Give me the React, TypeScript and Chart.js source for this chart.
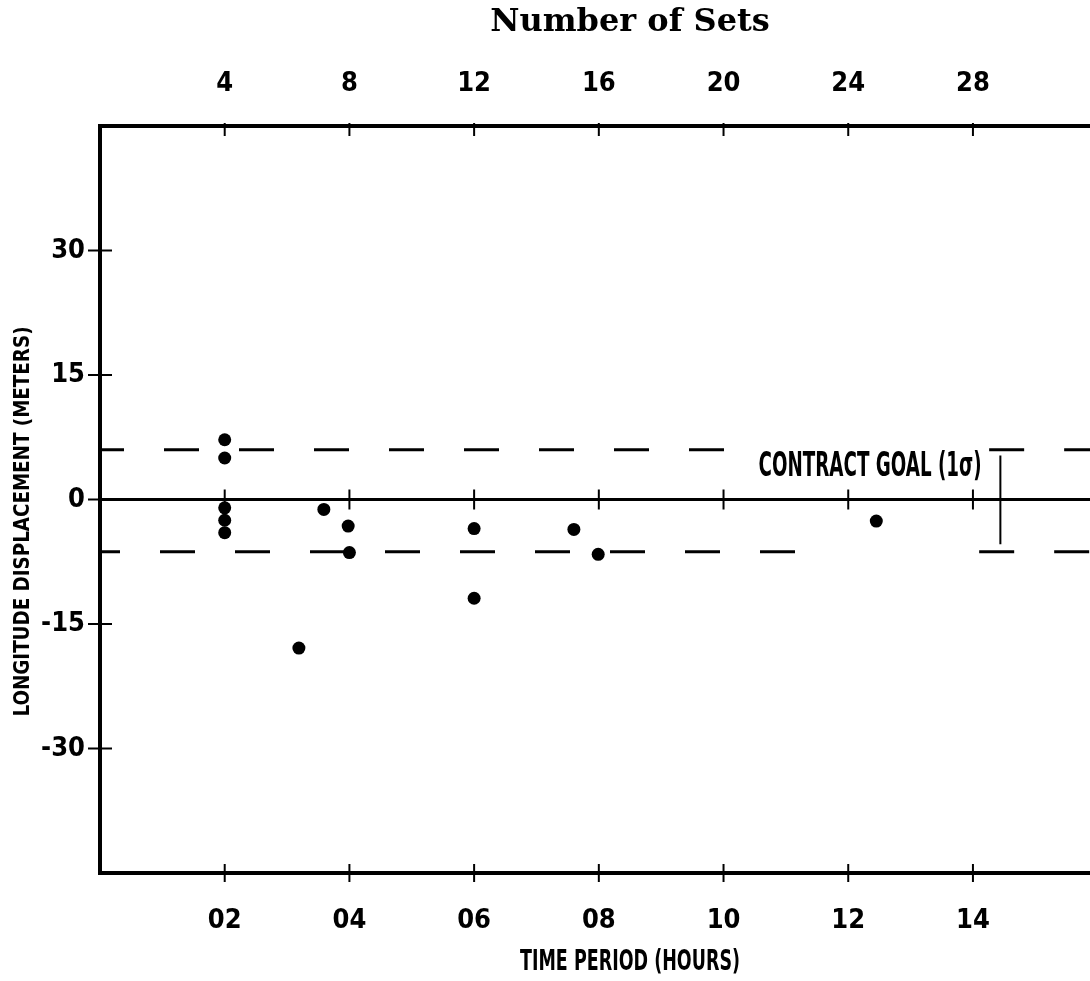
import React, { useEffect, useRef } from "react";
import { Chart, registerables } from "chart.js";

Chart.register(...registerables);

// ---- data ----
const HOURS = [2, 2, 2, 2, 2, 3.19, 3.59, 3.98, 4.0, 6.0, 6.0, 7.6, 7.99, 12.45];
const DISPLACEMENT = [7.2, 5.0, -1.0, -2.5, -4.0, -17.9, -1.2, -3.2, -6.4, -3.5, -11.9, -3.6, -6.6, -2.6];

const TIME_TICKS = [2, 4, 6, 8, 10, 12, 14];
const TIME_TICK_LABELS = ["02", "04", "06", "08", "10", "12", "14"];
const SET_TICKS = [4, 8, 12, 16, 20, 24, 28];
const SET_TICK_LABELS = ["4", "8", "12", "16", "20", "24", "28"];
const DISP_TICKS = [30, 15, 0, -15, -30];
const DISP_TICK_LABELS = ["30", "15", "0", "-15", "-30"];

const GOAL_UPPER = 6.0;
const GOAL_LOWER = -6.3;
const ERROR_BAR_X = 14.44;
const ERROR_BAR_TOP = 5.3;
const ERROR_BAR_BOTTOM = -5.4;
const GOAL_LABEL = "CONTRACT GOAL (1\u03c3)";
const GOAL_LABEL_POS = { x: 12.35, y: 3.9 };

const X_TITLE = "TIME PERIOD (HOURS)";
const Y_TITLE = "LONGITUDE DISPLACEMENT (METERS)";
const TOP_TITLE = "Number of Sets";

const X_MIN = 0;
const X_MAX = 17;
const Y_MIN = -45;
const Y_MAX = 45;

const NARROW = "'Liberation Sans Narrow', 'DejaVu Sans Condensed', sans-serif";

function condensedText(ctx: any, text: string, cx: number, cy: number, size: number, width: number, rot: number) {
  ctx.save();
  ctx.font = `bold ${size}px ${NARROW}`;
  const w = ctx.measureText(text).width;
  ctx.translate(cx, cy);
  ctx.rotate(rot);
  ctx.scale(width / w, 1);
  ctx.fillStyle = "#000";
  ctx.textAlign = "center";
  ctx.textBaseline = "middle";
  ctx.fillText(text, 0, 0);
  ctx.restore();
}

const decorPlugin = {
  id: "decor",
  afterDatasetsDraw(chart: any) {
    const { ctx, chartArea, scales } = chart;
    const x = scales.x;
    const x2 = scales.x2;
    const y = scales.y;
    const seg = (a: number, b: number, c: number, d: number) => {
      ctx.beginPath();
      ctx.moveTo(a, b);
      ctx.lineTo(c, d);
      ctx.stroke();
    };
    ctx.save();
    ctx.strokeStyle = "#000";
    ctx.lineWidth = 2;
    const y0 = y.getPixelForValue(0);
    for (const t of y.ticks) {
      const py = y.getPixelForValue(t.value);
      seg(chartArea.left - 12, py, chartArea.left + 12, py);
    }
    for (const t of x.ticks) {
      const px = x.getPixelForValue(t.value);
      seg(px, chartArea.bottom - 9, px, chartArea.bottom + 9);
      seg(px, y0 - 10, px, y0 + 10);
    }
    for (const t of x2.ticks) {
      const px = x2.getPixelForValue(t.value);
      seg(px, chartArea.top - 3, px, chartArea.top + 10);
    }
    ctx.restore();

    // goal label
    const lx = x.getPixelForValue(GOAL_LABEL_POS.x);
    const ly = y.getPixelForValue(GOAL_LABEL_POS.y);
    condensedText(ctx, GOAL_LABEL, lx, ly, 34, 223, 0);

    // axis titles (condensed, like the original lettering)
    const midX = (x.left + x.right) / 2;
    condensedText(ctx, X_TITLE, midX, 963, 28, 220, 0);
    condensedText(ctx, Y_TITLE, 23, (chartArea.top + chartArea.bottom) / 2 + 22, 22, 390, -Math.PI / 2);
  },
};

function hLine(yv: number, x0: number, x1: number, dash: number[] | null, offset: number, width: number) {
  return {
    data: [
      { x: x0, y: yv },
      { x: x1, y: yv },
    ],
    showLine: true,
    pointRadius: 0,
    borderColor: "#000",
    borderWidth: width,
    borderDash: dash || [],
    borderDashOffset: offset,
    fill: false,
  };
}

export default function App() {
  const ref = useRef<HTMLCanvasElement | null>(null);

  useEffect(() => {
    if (!ref.current) return;
    const tickFont = { family: NARROW, weight: "bold", size: 27 };
    const chart = new Chart(ref.current, {
      type: "scatter",
      data: {
        datasets: [
          {
            data: HOURS.map((h, i) => ({ x: h, y: DISPLACEMENT[i] })),
            pointRadius: 6.5,
            pointBackgroundColor: "#000",
            pointBorderColor: "#000",
            pointBorderWidth: 0,
            showLine: false,
          } as any,
          hLine(0, X_MIN, X_MAX, null, 0, 3),
          hLine(GOAL_UPPER, X_MIN, 10.2, [35, 40], 11, 3),
          hLine(GOAL_UPPER, 14.26, X_MAX, [35, 40], 0, 3),
          hLine(GOAL_LOWER, X_MIN, 11.3, [35, 40], 15, 3),
          hLine(GOAL_LOWER, 14.1, X_MAX, [35, 40], 0, 3),
          {
            data: [
              { x: ERROR_BAR_X, y: ERROR_BAR_TOP },
              { x: ERROR_BAR_X, y: ERROR_BAR_BOTTOM },
            ],
            showLine: true,
            pointRadius: 0,
            borderColor: "#000",
            borderWidth: 2,
          },
        ],
      },
      options: {
        animation: false,
        responsive: false,
        layout: { padding: { left: 0, right: 10, top: 0, bottom: 0 } },
        plugins: {
          legend: { display: false },
          tooltip: { enabled: false },
        },
        scales: {
          x: {
            type: "linear",
            position: "bottom",
            min: X_MIN,
            max: X_MAX,
            afterBuildTicks: (s: any) => {
              s.ticks = TIME_TICKS.map((v) => ({ value: v }));
            },
            afterFit: (s: any) => {
              s.height = 108;
            },
            ticks: {
              color: "#000",
              padding: 32,
              maxRotation: 0,
              autoSkip: false,
              font: tickFont,
              callback: (_v: any, i: number) => TIME_TICK_LABELS[i],
            },
            grid: { display: false, drawTicks: false },
            border: { display: true, color: "#000", width: 4 },
            title: { display: false, text: X_TITLE },
          },
          x2: {
            type: "linear",
            axis: "x",
            position: "top",
            min: X_MIN * 2,
            max: X_MAX * 2,
            afterBuildTicks: (s: any) => {
              s.ticks = SET_TICKS.map((v) => ({ value: v }));
            },
            afterFit: (s: any) => {
              s.height = 126;
            },
            ticks: {
              color: "#000",
              padding: 26,
              maxRotation: 0,
              autoSkip: false,
              font: tickFont,
              callback: (_v: any, i: number) => SET_TICK_LABELS[i],
            },
            grid: { display: false, drawTicks: false },
            border: { display: true, color: "#000", width: 4 },
            title: {
              display: true,
              text: TOP_TITLE,
              color: "#000",
              font: { family: "'DejaVu Serif', 'Liberation Serif', serif", weight: "bold", size: 32 },
              padding: { top: 3, bottom: 0 },
            },
          },
          y: {
            type: "linear",
            position: "left",
            min: Y_MIN,
            max: Y_MAX,
            afterBuildTicks: (s: any) => {
              s.ticks = DISP_TICKS.map((v) => ({ value: v }));
            },
            afterFit: (s: any) => {
              s.width = 100;
            },
            ticks: {
              color: "#000",
              padding: 15,
              autoSkip: false,
              font: tickFont,
              callback: (_v: any, i: number) => DISP_TICK_LABELS[i],
            },
            grid: { display: false, drawTicks: false },
            border: { display: true, color: "#000", width: 4 },
            title: { display: false, text: Y_TITLE },
          },
        },
      } as any,
      plugins: [decorPlugin],
    });
    return () => chart.destroy();
  }, []);

  return (
    <div
      style={{
        position: "absolute",
        left: 0,
        top: 0,
        width: 1090,
        height: 981,
        overflow: "hidden",
        background: "#fff",
      }}
    >
      <canvas ref={ref} width={1170} height={981} style={{ display: "block", width: 1170, height: 981 }} />
    </div>
  );
}
